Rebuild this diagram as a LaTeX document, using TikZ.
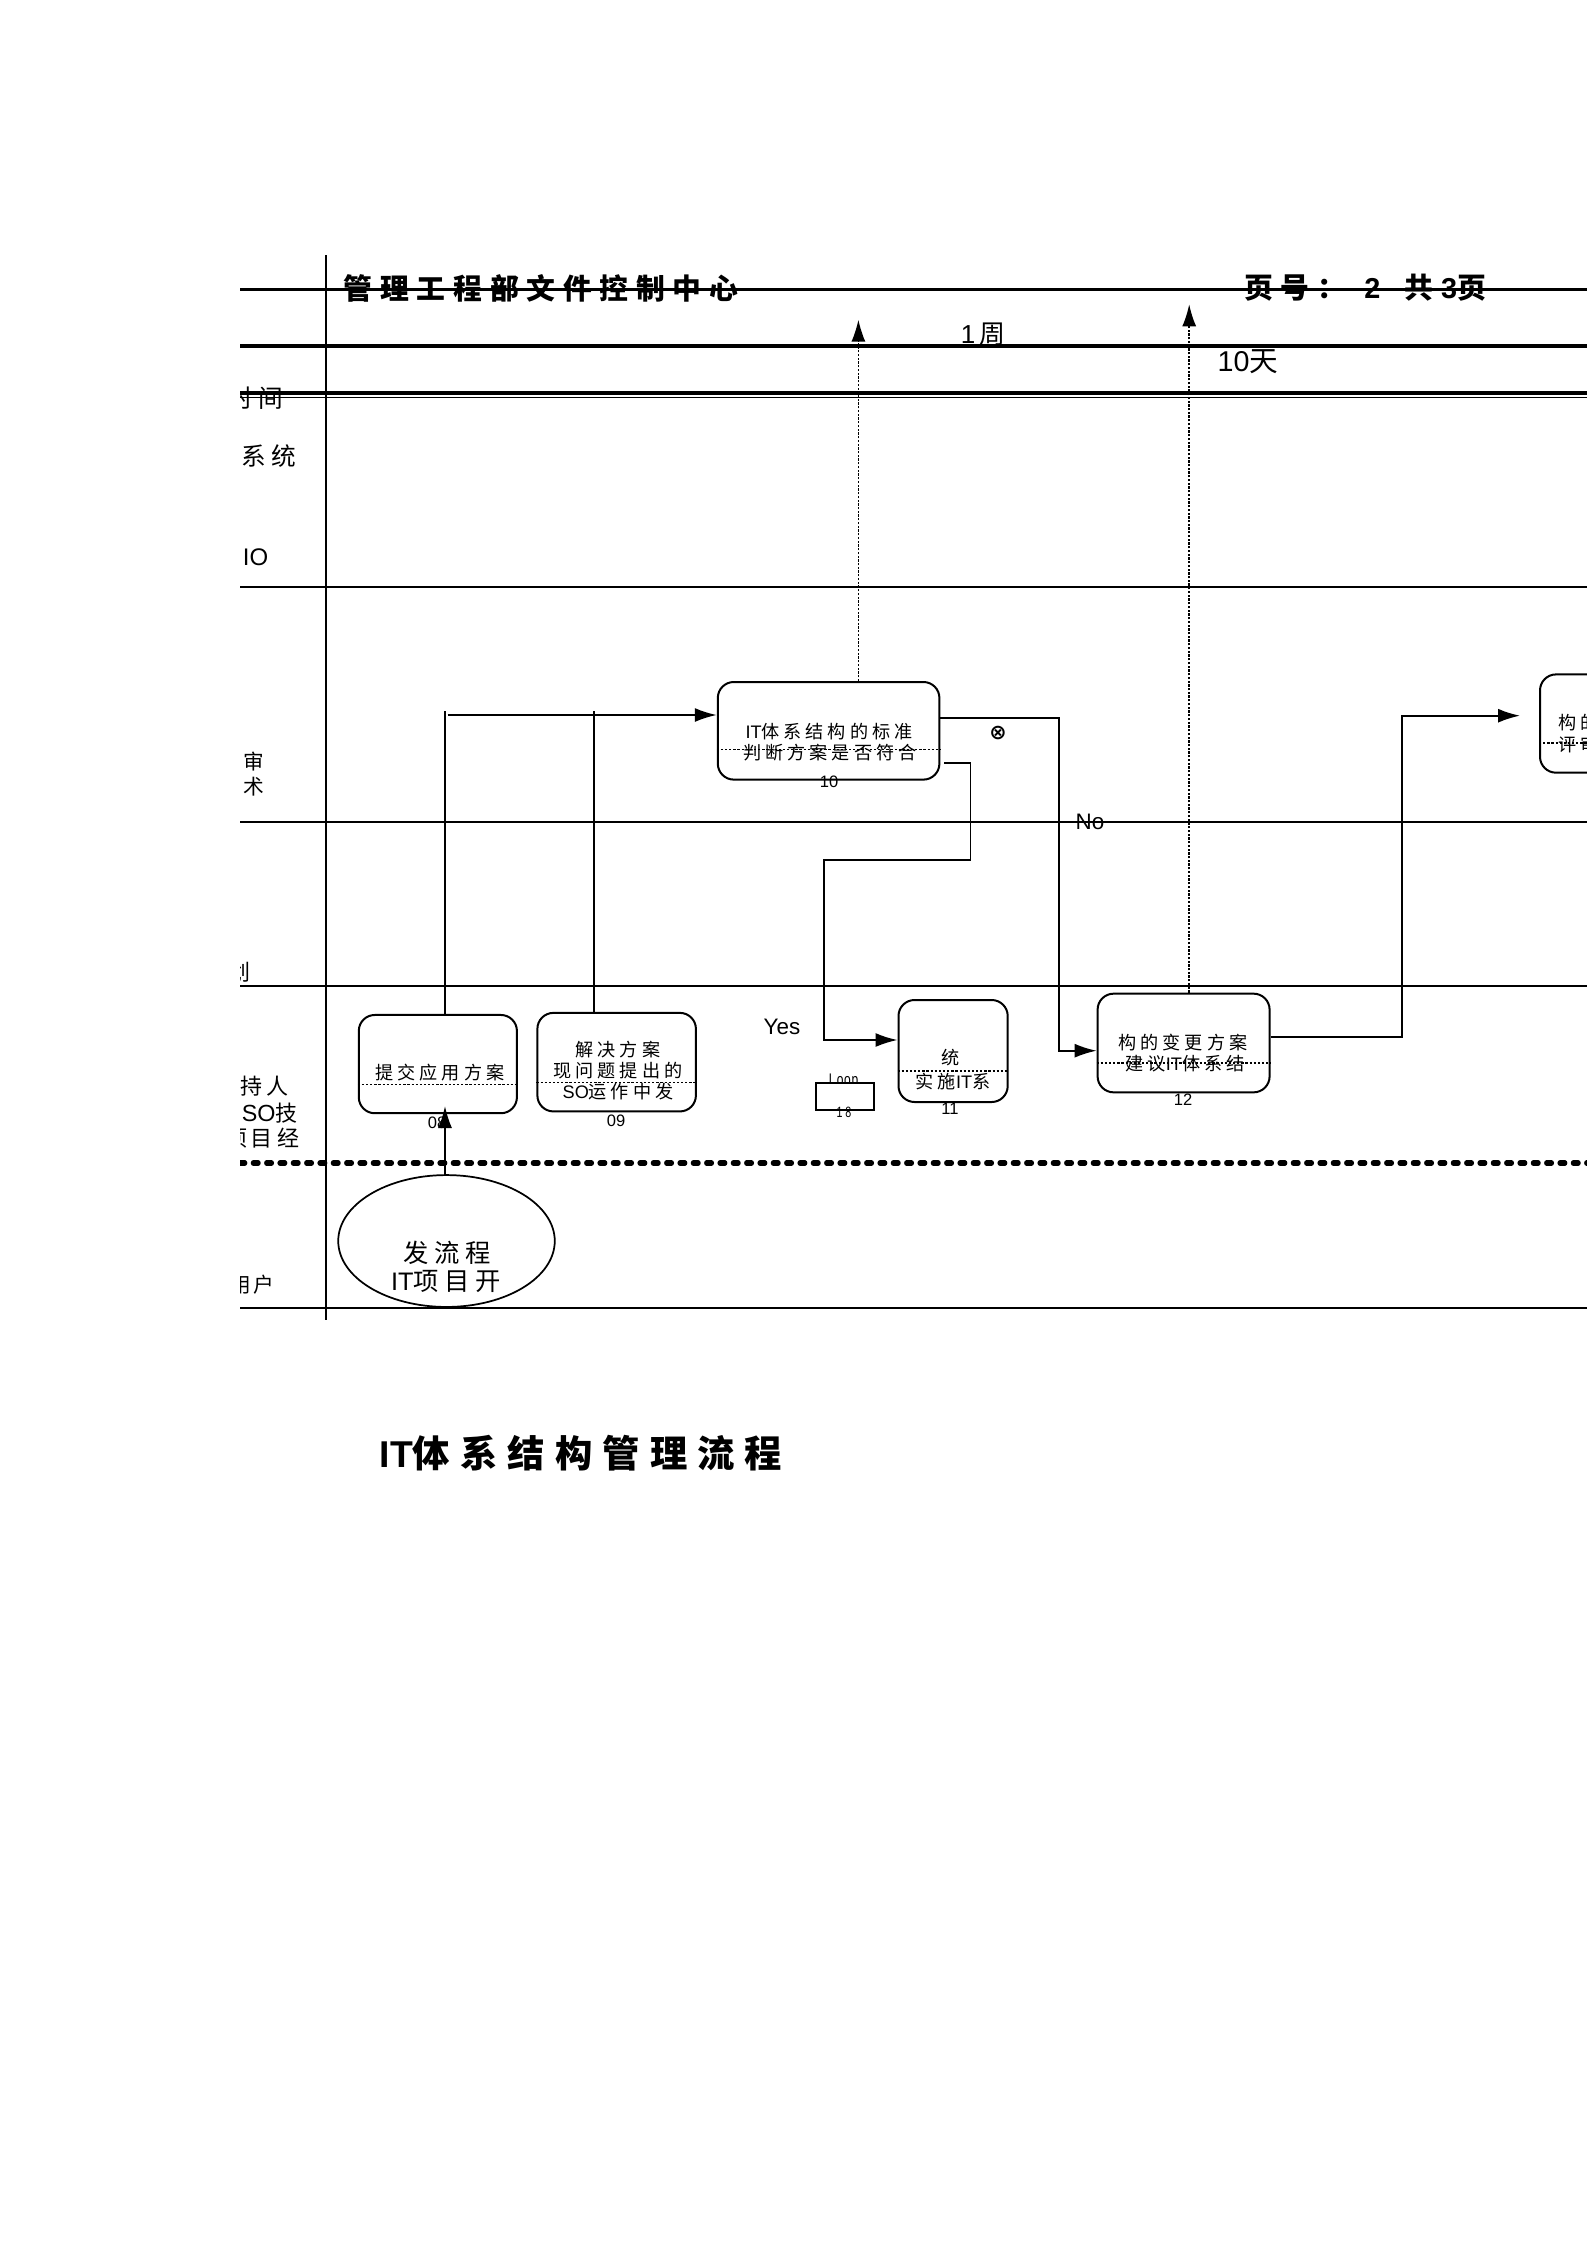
\documentclass[tikz,border=0pt]{standalone}
\usepackage{fontspec}
\usetikzlibrary{arrows.meta,shapes.geometric,calc}
\setmainfont{Liberation Sans}
\newfontfamily\cjk[LetterSpace=22]{Noto Sans CJK SC}
\newfontfamily\cjkb[LetterSpace=27]{Noto Sans CJK SC}
\newfontfamily\symf{DejaVu Sans}
\newcommand{\zh}[1]{{\cjk #1}}
\newcommand{\zb}[1]{{\cjkb\bfseries #1}}
\newcommand{\sz}[1]{\fontsize{#1}{#1}\selectfont}
\tikzset{
  x=0.75pt,y=-0.75pt,
  txt/.style={inner sep=0pt,outer sep=0pt,text=black},
  boxtxt/.style={txt,font=\sz{13.6}},
  numtxt/.style={txt,font=\sz{12.4}},
  rowtxt/.style={txt,font=\sz{16.5}},
  pbox/.style={draw=black,line width=1.5pt,rounded corners=12pt,fill=none,inner sep=0pt},
  divider/.style={line width=1.2pt,dash pattern=on 1.7pt off 1.4pt},
  thickrule/.style={line width=2.4pt},
  rule/.style={line width=1.3pt},
  conn/.style={line width=1.4pt},
  arr/.style={line width=1.4pt,-{Latex[length=16.5pt,width=10.5pt]}},
  dotarr/.style={line width=1.2pt,dash pattern=on 1.7pt off 1.1pt,-{Latex[length=16.5pt,width=10.5pt]}}
}
\begin{document}
\begin{tikzpicture}
\useasboundingbox (0,0) rectangle (1587,2245);
\begin{scope}
\clip (240,0) rectangle (1587,2245);

% rules
\coordinate (lA) at (230,289.4); \coordinate (rA) at (1600,289.4);
\coordinate (lB) at (230,346);   \coordinate (rB) at (1600,346);
\coordinate (lC) at (230,393);   \coordinate (rC) at (1600,393);
\coordinate (lD) at (230,397.5); \coordinate (rD) at (1600,397.5);
\coordinate (lE) at (230,586.7); \coordinate (rE) at (1600,586.7);
\coordinate (lF) at (230,821.7); \coordinate (rF) at (1600,821.7);
\coordinate (lG) at (230,986);   \coordinate (rG) at (1600,986);
\coordinate (lH) at (240,1163);  \coordinate (rH) at (1600,1163);
\coordinate (lI) at (230,1308);  \coordinate (rI) at (1600,1308);
\coordinate (vT) at (325.8,255); \coordinate (vB) at (325.8,1320);
\draw[thickrule] (lA) -- (rA);
\draw[thickrule] (lB) -- (rB);
\draw[thickrule] (lC) -- (rC);
\draw[line width=1pt] (lD) -- (rD);
\draw[rule] (lE) -- (rE);
\draw[rule] (lF) -- (rF);
\draw[line width=1.6pt] (lG) -- (rG);
\draw[line width=3.9pt,line cap=round,dash pattern=on 3.6pt off 6.4pt] (lH) -- (rH);
\draw[line width=1.5pt] (lI) -- (rI);
\draw[line width=1.6pt] (vT) -- (vB);

% header
\node[txt,font=\sz{21.6}] (hdrL) at (541,288) {\zb{管理工程部文件控制中心}};
\node[txt,font=\sz{21.6},anchor=west] (hdrR) at (1244,288) {\zb{页号：}\hspace{8pt}\textbf{2}\hspace{18pt}\zb{共}\textbf{3}\zb{页}};
\node[txt,font=\sz{19.5}] (week) at (983,334) {1\hspace{3pt}\zh{周}};
\node[txt,font=\sz{21.5}] (days) at (1248,362) {10\zh{天}};

% row labels
\node[rowtxt,font=\sz{18.5},anchor=east] (rTime) at (283,398) {\zh{时}\hspace{4pt}\zh{间}};
\node[rowtxt,font=\sz{18.5},anchor=east] (rSys) at (296.5,456) {\zh{系统}};
\node[rowtxt,font=\sz{18}] (rIO) at (255.5,557.6) {IO};
\node[rowtxt,font=\sz{15.5}] (rAudit) at (254,762) {\zh{审}};
\node[rowtxt,font=\sz{15.5}] (rTech) at (254,787) {\zh{术}};
\node[rowtxt,anchor=east] (rPlan) at (250,972) {\zh{划}};
\node[rowtxt,anchor=east] (rHold) at (289,1086) {\zh{持人}};
\node[rowtxt,anchor=east] (rSO) at (297.5,1113) {{\sz{17.5}SO}\zh{技}};
\node[rowtxt,anchor=east] (rMgr) at (299.5,1138) {\zh{项}\hspace{2pt}\zh{目经}};
\node[rowtxt,font=\sz{15.5},anchor=east] (rUser) at (274,1285) {\zh{用}\hspace{2pt}\zh{户}};

% process boxes
\node[pbox,minimum width=166.2pt,minimum height=73.2pt] (b10) at (828.6,730.8) {};
\node[pbox,minimum width=118.6pt,minimum height=73.7pt] (b08) at (437.85,1064.1) {};
\node[pbox,minimum width=118.9pt,minimum height=73.9pt] (b09) at (616.65,1062.15) {};
\node[pbox,minimum width=81.9pt,minimum height=76.5pt] (b11) at (953.1,1051) {};
\node[pbox,minimum width=129pt,minimum height=74pt] (b12) at (1183.6,1043) {};
\node[pbox,minimum width=120pt,minimum height=73.7pt] (b13) at (1620,723.55) {};

% dividers
\draw[divider] (b10.west |- 0,749.4) -- (b10.east |- 0,749.4);
\draw[divider] (b08.west |- 0,1084.6) -- (b08.east |- 0,1084.6);
\draw[divider] (b09.west |- 0,1082.5) -- (b09.east |- 0,1082.5);
\draw[divider] (b11.west |- 0,1071) -- (b11.east |- 0,1071);
\draw[divider] (b12.west |- 0,1062.7) -- (b12.east |- 0,1062.7);
\draw[divider] (b13.west |- 0,743.2) -- (b13.east |- 0,743.2);

% box text
\node[boxtxt] (t10a) at (829,731.8) {IT\zh{体系结构的标准}};
\node[boxtxt] (t10b) at (830,752.8) {\zh{判断方案是否符合}};
\node[numtxt] (n10) at (829,781.5) {10};
\node[boxtxt] (t08) at (440,1073) {\zh{提交应用方案}};
\node[numtxt] (n08) at (437,1123) {08};
\node[boxtxt] (t09a) at (618,1049.6) {\zh{解决方案}};
\node[boxtxt] (t09b) at (618,1070.4) {\zh{现问题提出的}};
\node[boxtxt] (t09c) at (618,1091.4) {SO\zh{运作中发}};
\node[numtxt] (n09) at (616,1120.4) {09};
\node[boxtxt] (t11a) at (951,1057.3) {\zh{统}};
\node[boxtxt] (t11b) at (953,1082) {\zh{实施}IT\zh{系}};
\node[numtxt] (n11) at (950,1109) {11};
\node[boxtxt] (t12a) at (1183,1042.7) {\zh{构的变更方案}};
\node[boxtxt] (t12b) at (1185,1063.3) {\zh{建议}IT\zh{体系结}};
\node[numtxt] (n12) at (1183,1100) {12};
\node[boxtxt,anchor=west] (t13a) at (1558.6,723) {\zh{构的}};
\node[boxtxt,anchor=west] (t13b) at (1558.6,745) {\zh{评审}};

% loop marker
\node[txt,font=\sz{9},anchor=base] (loopT) at (843.5,1085) {\scalebox{1}[1.4]{L\hspace{1pt}o\hspace{0.5pt}o\hspace{0.5pt}p}};
\node[draw=black,fill=white,line width=1.6pt,minimum width=43.5pt,minimum height=20.25pt,inner sep=0pt] (loop) at (845,1096.5) {};
\node[txt,font=\sz{8}] (loopN) at (844,1112) {\scalebox{1}[1.4]{1\hspace{2pt}8}};

% start ellipse
\node[draw=black,ellipse,line width=1.3pt,minimum width=162.4pt,minimum height=98.9pt,inner sep=0pt] (start) at (446.5,1241) {};
\node[txt,font=\sz{19}] (ts1) at (447,1252.5) {\zh{发流程}};
\node[txt,font=\sz{19}] (ts2) at (446,1281.8) {IT\zh{项目开}};

% labels
\node[txt,font=\sz{16.8}] (lYes) at (782,1026.7) {Yes};
\node[txt,font=\sz{16.8}] (lNo) at (1090,821.7) {No};
\node[txt,font=\symf\bfseries\sz{15.5}] (lX) at (998,733) {⊗};

% connectors
\coordinate (c08) at (444.6,710.7);
\coordinate (c09) at (593.7,710.7);
\coordinate (c10in) at (447.7,715);
\draw[conn] (b08.north -| c08) -- (c08);
\draw[conn] (b09.north -| c09) -- (c09);
\draw[arr] (c10in) -- (b10.west |- c10in);

\coordinate (noA) at (939.4,717.6);
\coordinate (noB) at (1059.2,717.6);
\coordinate (noC) at (1059.2,1050.7);
\draw[arr] (noA) -- (noB) -- (noC) -- (b12.west |- noC);

\coordinate (yA) at (944,763.3);
\coordinate (yB) at (970.5,763.3);
\coordinate (yC) at (970.5,860);
\coordinate (yD) at (824,860);
\coordinate (yE) at (824,1040);
\draw[arr] (yA) -- (yB) -- (yC) -- (yD) -- (yE) -- (b11.west |- yE);

\coordinate (oA) at (1401.9,1037.3);
\coordinate (oB) at (1401.9,715.7);
\coordinate (oC) at (1520,715.7);
\draw[arr] (b12.east |- oA) -- (oA) -- (oB) -- (oC);

\coordinate (tip08) at (445,1106);
\draw[arr] (start.north -| tip08) -- (tip08);

\coordinate (tipW) at (858.4,319.6);
\draw[dotarr] (b10.north -| tipW) -- (tipW);
\coordinate (tipD) at (1189.2,304.3);
\draw[dotarr] (b12.north -| tipD) -- (tipD);

% title
\node[txt,font=\sz{28}] (title) at (581,1453.6) {\textbf{IT}\zb{体系结构管理流程}};
\end{scope}
\end{tikzpicture}
\end{document}
